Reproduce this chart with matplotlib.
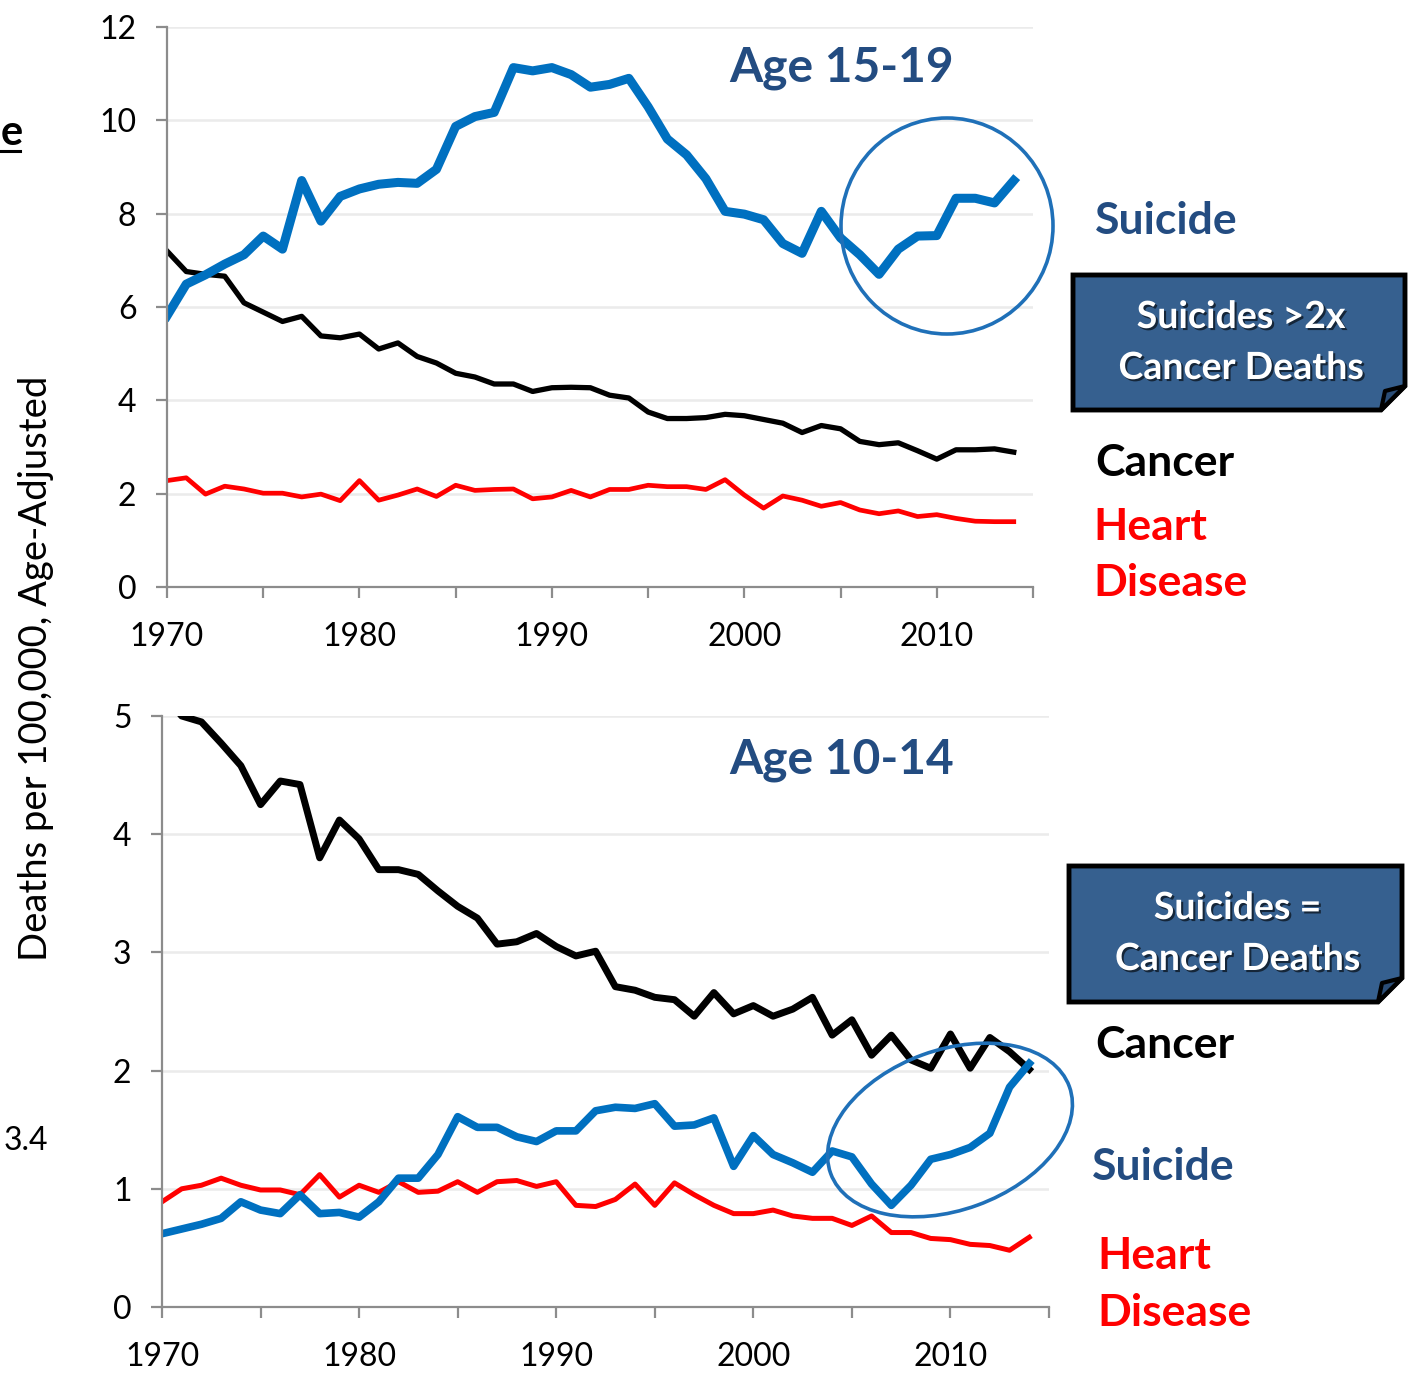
import numpy as np
import matplotlib
matplotlib.use("Agg")
import matplotlib.pyplot as plt
from matplotlib.patches import Ellipse, Polygon
from matplotlib.transforms import Affine2D
import matplotlib.patheffects as pe

plt.rcParams['font.family'] = ['Lato', 'DejaVu Sans']

# Data
years = np.arange(1970, 2015)

suicide_15_19 = [5.81, 6.49, 6.69, 6.92, 7.12, 7.52, 7.24, 8.71, 7.84, 8.37,
                 8.53, 8.63, 8.67, 8.65, 8.95, 9.87, 10.08, 10.17, 11.13, 11.06,
                 11.13, 10.98, 10.71, 10.77, 10.90, 10.29, 9.60, 9.26, 8.75, 8.05,
                 7.99, 7.87, 7.36, 7.15, 8.05, 7.48, 7.12, 6.70, 7.24, 7.52,
                 7.53, 8.33, 8.33, 8.23, 8.71]
cancer_15_19 = [7.20, 6.76, 6.70, 6.66, 6.09, 5.89, 5.69, 5.80, 5.38, 5.34,
                5.42, 5.10, 5.23, 4.94, 4.80, 4.58, 4.50, 4.35, 4.35, 4.19,
                4.27, 4.28, 4.27, 4.11, 4.05, 3.75, 3.61, 3.61, 3.63, 3.70,
                3.67, 3.59, 3.51, 3.31, 3.46, 3.39, 3.12, 3.05, 3.09, 2.92,
                2.74, 2.94, 2.94, 2.96, 2.89]
heart_15_19 = [2.28, 2.34, 1.99, 2.16, 2.10, 2.01, 2.01, 1.93, 1.99, 1.85,
               2.28, 1.86, 1.97, 2.10, 1.94, 2.18, 2.07, 2.09, 2.10, 1.89,
               1.93, 2.07, 1.93, 2.09, 2.09, 2.18, 2.15, 2.15, 2.09, 2.30,
               1.97, 1.69, 1.95, 1.86, 1.73, 1.81, 1.65, 1.57, 1.63, 1.51,
               1.55, 1.47, 1.41, 1.40, 1.40]

cancer_10_14 = [5.20, 5.00, 4.95, 4.77, 4.58, 4.25, 4.45, 4.42, 3.80, 4.12,
                3.96, 3.70, 3.70, 3.66, 3.52, 3.39, 3.29, 3.07, 3.09, 3.16,
                3.05, 2.97, 3.01, 2.71, 2.68, 2.62, 2.60, 2.46, 2.66, 2.48,
                2.55, 2.46, 2.52, 2.62, 2.30, 2.43, 2.13, 2.30, 2.09, 2.02,
                2.31, 2.02, 2.28, 2.16, 2.01]
suicide_10_14 = [0.62, 0.66, 0.70, 0.75, 0.89, 0.82, 0.79, 0.95, 0.79, 0.80,
                 0.76, 0.89, 1.09, 1.09, 1.29, 1.61, 1.52, 1.52, 1.44, 1.40,
                 1.49, 1.49, 1.66, 1.69, 1.68, 1.72, 1.53, 1.54, 1.60, 1.19,
                 1.45, 1.29, 1.22, 1.14, 1.32, 1.27, 1.04, 0.86, 1.03, 1.25,
                 1.29, 1.35, 1.47, 1.86, 2.06]
heart_10_14 = [0.89, 1.00, 1.03, 1.09, 1.03, 0.99, 0.99, 0.95, 1.12, 0.93,
               1.03, 0.97, 1.06, 0.97, 0.98, 1.06, 0.97, 1.06, 1.07, 1.02,
               1.06, 0.86, 0.85, 0.91, 1.04, 0.86, 1.05, 0.95, 0.86, 0.79,
               0.79, 0.82, 0.77, 0.75, 0.75, 0.69, 0.77, 0.63, 0.63, 0.58,
               0.57, 0.53, 0.52, 0.48, 0.59]

xticks = np.arange(1970, 2016, 5)
xlabels = [str(y) if y % 10 == 0 else '' for y in xticks]

BLUE = '#0070C0'
RED = '#FF0000'
NAVY = '#234C81'
BOXC = '#36608F'
W, H = 1421, 1383

fig = plt.figure(figsize=(W / 100, H / 100), dpi=100)


# pixel coords (origin top-left) -> figure fraction
def fx(x):
    return x / W


def fy(y):
    return 1 - y / H


pix = Affine2D().scale(1 / W, 1 / H) + fig.transFigure


def style_axes(ax, ymax, ystep):
    ax.set_xlim(1970, 2015)
    ax.set_ylim(0, ymax)
    ax.set_yticks(np.arange(0, ymax + 0.1, ystep))
    ax.set_xticks(xticks)
    ax.set_xticklabels(xlabels)
    for s in ['top', 'right']:
        ax.spines[s].set_visible(False)
    for s in ['left', 'bottom']:
        ax.spines[s].set_color('#8C8C8C')
        ax.spines[s].set_linewidth(1.6)
    ax.grid(axis='y', color='#EBEBEB', lw=1.8)
    ax.set_axisbelow(True)
    ax.tick_params(axis='y', length=8, width=1.6, color='#8C8C8C', pad=14, labelsize=23)
    ax.tick_params(axis='x', length=8, width=1.6, color='#8C8C8C', pad=17, labelsize=23)


# Grafic 1 - Age 15-19
ax1 = fig.add_axes([fx(167), fy(587), fx(1033) - fx(167), fy(27) - fy(587)])
style_axes(ax1, 12, 2)
ax1.plot(years, heart_15_19, color=RED, lw=3.4)
ax1.plot(years, cancer_15_19, color='black', lw=3.8)
ax1.plot(years, suicide_15_19, color=BLUE, lw=6.5)

# Grafic 2 - Age 10-14
ax2 = fig.add_axes([fx(162), fy(1307), fx(1049) - fx(162), fy(716) - fy(1307)])
style_axes(ax2, 5, 1)
ax2.plot(years, heart_10_14, color=RED, lw=3.6)
ax2.plot(years, cancer_10_14, color='black', lw=5)
ax2.plot(years, suicide_10_14, color=BLUE, lw=5.5)

# Titles
fig.text(fx(842), fy(68), 'Age 15-19', color=NAVY, fontsize=34.5, fontweight='bold',
         ha='center', va='center')
fig.text(fx(842), fy(760), 'Age 10-14', color=NAVY, fontsize=34.5, fontweight='bold',
         ha='center', va='center')

# Y label
fig.text(fx(36), fy(668), 'Deaths per 100,000, Age-Adjusted', rotation=90,
         fontsize=27.5, ha='center', va='center')

# cut off text on the left edge
fig.text(fx(1), fy(133), 'e', fontsize=30, fontweight='bold', ha='left', va='center')
fig.add_artist(plt.Line2D([fx(0), fx(20)], [fy(151), fy(151)], color='black', lw=2.2))
fig.text(fx(4), fy(1141), '3.4', fontsize=23, ha='left', va='center')

# Series labels on the right
lab = dict(fontsize=32, fontweight='bold', ha='left', va='center')
fig.text(fx(1095), fy(221), 'Suicide', color=NAVY, **lab)
fig.text(fx(1095), fy(463), 'Cancer', color='black', **lab)
fig.text(fx(1093), fy(527), 'Heart', color=RED, **lab)
fig.text(fx(1093), fy(583), 'Disease', color=RED, **lab)
fig.text(fx(1095), fy(1045), 'Cancer', color='black', **lab)
fig.text(fx(1092), fy(1167), 'Suicide', color=NAVY, **lab)
fig.text(fx(1097), fy(1256), 'Heart', color=RED, **lab)
fig.text(fx(1097), fy(1313), 'Disease', color=RED, **lab)


# Callout boxes with folded corner
def callout(x0, y0, x1, y1, lines):
    c = 24
    body = [(x0, H - y0), (x1, H - y0), (x1, H - (y1 - c)), (x1 - c, H - y1), (x0, H - y1)]
    fig.add_artist(Polygon(body, closed=True, transform=pix, facecolor=BOXC,
                           edgecolor='black', lw=3.5, joinstyle='miter'))
    fold = [(x1, H - (y1 - c)), (x1 - 20, H - (y1 - c + 5)), (x1 - c, H - y1)]
    fig.add_artist(Polygon(fold, closed=True, transform=pix, facecolor='#2A4C75',
                           edgecolor='black', lw=3, joinstyle='round'))
    cx = (x0 + x1) / 2 + 2
    for i, t in enumerate(lines):
        fig.text(fx(cx), fy(y0 + 42 + i * 51), t, color='white', fontsize=27,
                 fontweight='bold', ha='center', va='center',
                 path_effects=[pe.withSimplePatchShadow(offset=(1.5, -1.5),
                                                        shadow_rgbFace='black', alpha=0.6)])


callout(1073, 275, 1405, 410, ['Suicides >2x', 'Cancer Deaths'])
callout(1069, 866, 1402, 1002, ['Suicides =', 'Cancer Deaths'])

# Circles
fig.add_artist(Ellipse((947, H - 226), 212, 216, transform=pix, fill=False,
                       edgecolor='#1F70B8', lw=2.6))
fig.add_artist(Ellipse((950, H - 1130), 254, 160, angle=20, transform=pix, fill=False,
                       edgecolor='#1F70B8', lw=2.6))

plt.savefig('out.png', dpi=100)
